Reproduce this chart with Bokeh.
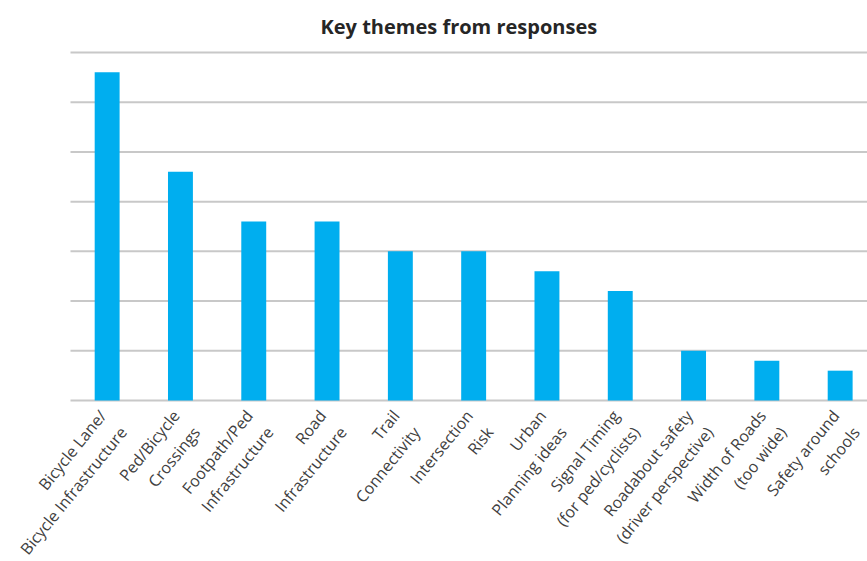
import math
from bokeh.plotting import figure
from bokeh.models import Range1d, ColumnDataSource
from bokeh.core.properties import value
from bokeh.embed import file_html
from bokeh.resources import INLINE

categories = [
    "Bicycle Lane/\nBicycle Infrastructure",
    "Ped/Bicycle\nCrossings",
    "Footpath/Ped\nInfrastructure",
    "Road\nInfrastructure",
    "Trail\nConnectivity",
    "Intersection\nRisk",
    "Urban\nPlanning ideas",
    "Signal Timing\n(for ped/cyclists)",
    "Roadabout safety\n(driver perspective)",
    "Width of Roads\n(too wide)",
    "Safety around\nschools",
]
counts = [33, 23, 18, 18, 15, 15, 13, 11, 5, 4, 3]
grid_values = [0, 5, 10, 15, 20, 25, 30, 35]

X_END = 10.873
UNIT = 797 / X_END          # px per category slot
Y_UNIT = 352 / 35.4         # px per count

positions = [i + 0.5 for i in range(len(categories))]
src = ColumnDataSource(dict(x=positions, top=counts, base=[0] * len(counts), label=categories))
grid_src = ColumnDataSource(dict(y=grid_values, x0=[0] * len(grid_values),
                                 x1=[X_END] * len(grid_values)))

p = figure(width=867, height=561, output_backend="svg", toolbar_location=None,
           x_range=Range1d(-70 / UNIT, X_END),
           y_range=Range1d(-161 / Y_UNIT, 35.3),
           min_border_left=0, min_border_right=0, min_border_top=49, min_border_bottom=0)
p.title.text = "Key themes from responses"
p.title.align = "left"
p.title.offset = 320
p.title.text_font = "Open Sans"
p.title.text_font_size = "20px"
p.title.text_font_style = "bold"
p.title.text_color = "#262626"
p.title.standoff = 19

p.segment(x0="x0", x1="x1", y0="y", y1="y", source=grid_src,
          line_color="#c8c8c8", line_width=2)
p.vbar(x="x", top="top", width=0.34, bottom=0, source=src, color="#00AEEF", line_color=None)
p.text(x="x", y="base", text="label", source=src, angle=math.radians(51),
       text_align="right", text_baseline="top", x_offset=-13, y_offset=5,
       text_font=value("Open Sans"), text_font_size="16px", text_color="#404040",
       text_line_height=1.2)

p.axis.visible = False
p.grid.visible = False
p.outline_line_color = None

open("out.html", "w").write(file_html(p, INLINE))
